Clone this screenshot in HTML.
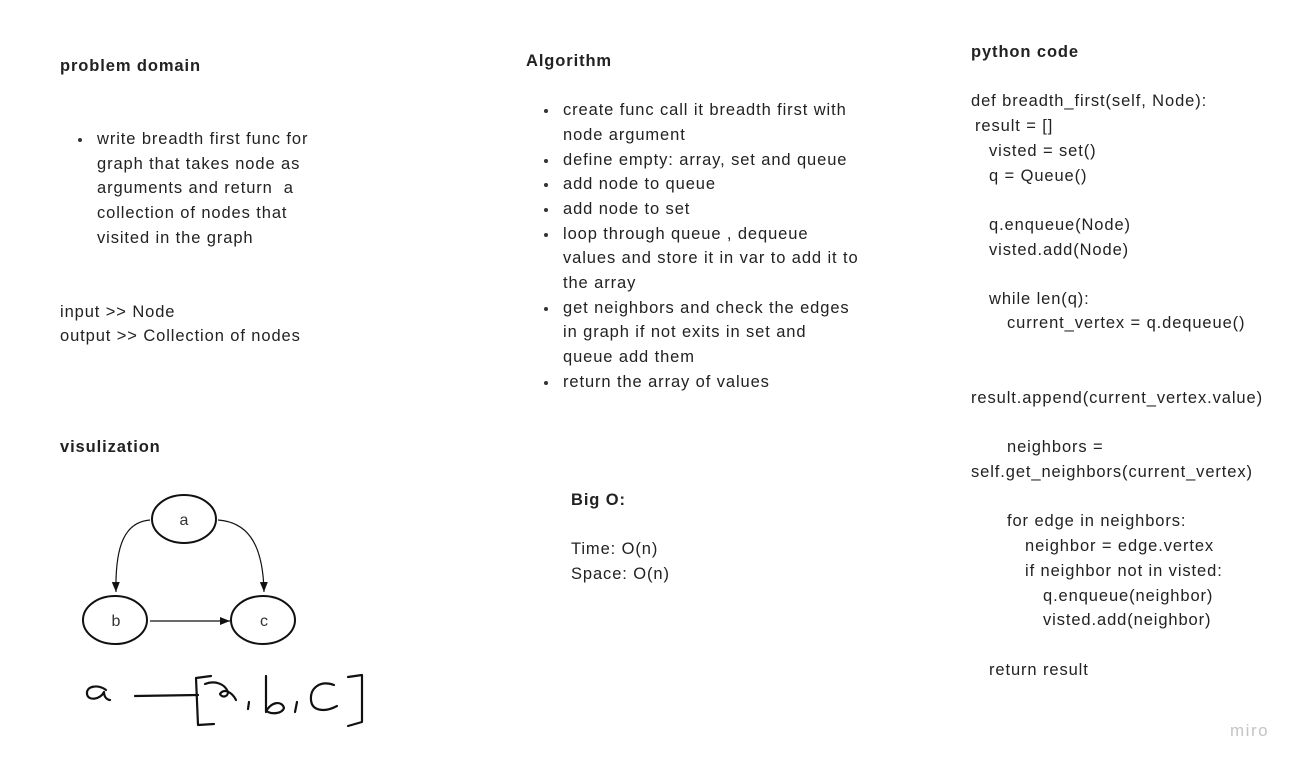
<!DOCTYPE html>
<html><head><meta charset="utf-8"><style>
body{margin:0;width:1302px;height:767px;background:#fff;position:relative;overflow:hidden;font-family:"Liberation Sans",sans-serif;color:#222;font-size:16.5px}
.t{position:absolute;white-space:nowrap;line-height:20px;letter-spacing:0.9px}
.b{font-weight:bold}
.d{position:absolute;width:4px;height:4px;border-radius:50%;background:#333}
</style></head><body>
<div class="t b" style="left:60px;top:56px">problem domain</div>
<div class="d" style="left:78px;top:138px"></div>
<div class="t" style="left:97px;top:129px">write breadth first func for</div>
<div class="t" style="left:97px;top:154px">graph that takes node as</div>
<div class="t" style="left:97px;top:178px">arguments and return&nbsp; a</div>
<div class="t" style="left:97px;top:203px">collection of nodes that</div>
<div class="t" style="left:97px;top:228px">visited in the graph</div>
<div class="t" style="left:60px;top:302px">input &gt;&gt; Node</div>
<div class="t" style="left:60px;top:326px">output &gt;&gt; Collection of nodes</div>
<div class="t b" style="left:60px;top:437px">visulization</div>

<div class="t b" style="left:526px;top:51px">Algorithm</div>
<div class="d" style="left:544px;top:109px"></div>
<div class="t" style="left:563px;top:100px">create func call it breadth first with</div>
<div class="t" style="left:563px;top:125px">node argument</div>
<div class="d" style="left:544px;top:159px"></div>
<div class="t" style="left:563px;top:150px">define empty: array, set and queue</div>
<div class="d" style="left:544px;top:183px"></div>
<div class="t" style="left:563px;top:174px">add node to queue</div>
<div class="d" style="left:544px;top:208px"></div>
<div class="t" style="left:563px;top:199px">add node to set</div>
<div class="d" style="left:544px;top:233px"></div>
<div class="t" style="left:563px;top:224px">loop through queue , dequeue</div>
<div class="t" style="left:563px;top:248px">values and store it in var to add it to</div>
<div class="t" style="left:563px;top:273px">the array</div>
<div class="d" style="left:544px;top:307px"></div>
<div class="t" style="left:563px;top:298px">get neighbors and check the edges</div>
<div class="t" style="left:563px;top:322px">in graph if not exits in set and</div>
<div class="t" style="left:563px;top:347px">queue add them</div>
<div class="d" style="left:544px;top:381px"></div>
<div class="t" style="left:563px;top:372px">return the array of values</div>
<div class="t b" style="left:571px;top:490px">Big O:</div>
<div class="t" style="left:571px;top:539px">Time: O(n)</div>
<div class="t" style="left:571px;top:564px">Space: O(n)</div>

<div class="t b" style="left:971px;top:42px">python code</div>
<div class="t" style="left:971px;top:91px">def breadth_first(self, Node):</div>
<div class="t" style="left:975px;top:116px">result = []</div>
<div class="t" style="left:989px;top:141px">visted = set()</div>
<div class="t" style="left:989px;top:166px">q = Queue()</div>
<div class="t" style="left:989px;top:215px">q.enqueue(Node)</div>
<div class="t" style="left:989px;top:240px">visted.add(Node)</div>
<div class="t" style="left:989px;top:289px">while len(q):</div>
<div class="t" style="left:1007px;top:313px">current_vertex = q.dequeue()</div>
<div class="t" style="left:971px;top:388px">result.append(current_vertex.value)</div>
<div class="t" style="left:1007px;top:437px">neighbors =</div>
<div class="t" style="left:971px;top:462px">self.get_neighbors(current_vertex)</div>
<div class="t" style="left:1007px;top:511px">for edge in neighbors:</div>
<div class="t" style="left:1025px;top:536px">neighbor = edge.vertex</div>
<div class="t" style="left:1025px;top:561px">if neighbor not in visted:</div>
<div class="t" style="left:1043px;top:586px">q.enqueue(neighbor)</div>
<div class="t" style="left:1043px;top:610px">visted.add(neighbor)</div>
<div class="t" style="left:989px;top:660px">return result</div>
<div class="t" style="left:1230px;top:721px;color:#c4c4c4;font-size:17px;letter-spacing:1.5px">miro</div>

<svg style="position:absolute;left:0;top:0" width="1302" height="767">
<defs><marker id="ar" markerWidth="10" markerHeight="8" refX="10" refY="4" orient="auto" markerUnits="userSpaceOnUse"><path d="M0,0L10,4L0,8z" fill="#111"/></marker></defs>
<g fill="none" stroke="#111" stroke-width="2">
<ellipse cx="184" cy="519" rx="32" ry="24"/>
<ellipse cx="115" cy="620" rx="32" ry="24"/>
<ellipse cx="263" cy="620" rx="32" ry="24"/>
</g>
<g fill="none" stroke="#111" stroke-width="1.2">
<path d="M150,520 C125,522 115,545 116,592" marker-end="url(#ar)"/>
<path d="M218,520 C245,522 263,540 264,592" marker-end="url(#ar)"/>
<path d="M150,621 L230,621" marker-end="url(#ar)"/>
</g>
<g font-size="16" fill="#333" text-anchor="middle" font-family="Liberation Sans,sans-serif">
<text x="184" y="525">a</text><text x="116" y="626">b</text><text x="264" y="626">c</text>
</g>
<g fill="none" stroke="#111" stroke-width="2.2" stroke-linecap="round" stroke-linejoin="round">
<path d="M106,690 C98,684 86,686 87,694 C88,701 100,700 104,692 C104,698 108,700 110,700"/>
<path d="M135,696 L198,695"/>
<path d="M211,676 L196,678 L198,725 L214,724"/>
<path d="M205,684 C215,680 225,684 228,692 C228,697 222,698 220,694 C224,688 232,692 236,700"/>
<path d="M249,702 L248,709"/>
<path d="M266,676 L266,712 C270,702 282,700 284,708 C282,714 272,714 268,712"/>
<path d="M297,702 L295,712"/>
<path d="M334,685 C320,680 310,688 311,700 C312,712 326,712 337,706"/>
<path d="M348,677 L362,675 L362,722 L348,726"/>
</g>
</svg>
</body></html>
